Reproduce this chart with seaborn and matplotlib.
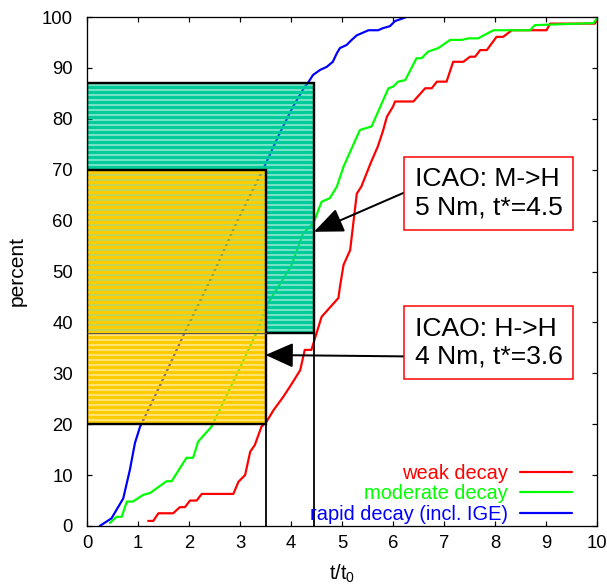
import matplotlib
matplotlib.use("Agg")
import matplotlib.pyplot as plt
from matplotlib.patches import Rectangle
from matplotlib.lines import Line2D
import numpy as np
import pandas as pd
import seaborn as sns

# ---------------- data ----------------
weak_t = [1.2, 1.3, 1.4, 1.69, 1.82, 1.92, 2.02, 2.15, 2.25, 2.87, 2.97, 3.1, 3.2, 3.29, 3.42, 3.52,
          3.66, 3.85, 3.98, 4.18, 4.27, 4.4, 4.6, 4.93, 4.96, 5.03, 5.16, 5.29, 5.38, 5.57, 5.7, 5.8,
          5.88, 6.0, 6.04, 6.4, 6.63, 6.76, 6.86, 7.05, 7.18, 7.38, 7.51, 7.61, 7.71, 7.84, 8.03,
          8.16, 8.33, 9.01, 9.08, 9.96, 10.0]
weak_p = [1.0, 1.0, 2.5, 2.5, 3.7, 3.7, 5.0, 5.0, 6.3, 6.3, 8.7, 10.0, 14.6, 15.9, 19.5, 20.5,
          22.8, 25.4, 27.4, 30.6, 34.6, 34.6, 41.1, 44.8, 47.0, 51.3, 54.2, 65.3, 66.7, 71.5, 74.5, 77.5,
          80.4, 82.4, 83.4, 83.4, 86.0, 86.0, 87.3, 87.3, 91.2, 91.2, 92.2, 92.2, 93.5, 93.5, 96.1,
          96.1, 97.4, 97.4, 98.7, 98.7, 99.5]

moderate_t = [0.45, 0.58, 0.68, 0.78, 0.9, 1.1, 1.24, 1.56, 1.66, 1.95, 2.08, 2.18, 2.44, 2.9, 3.35,
              3.5, 3.75, 4.0, 4.24, 4.44, 4.6, 4.76, 4.9, 5.03, 5.35, 5.58, 5.91, 6.0, 6.1, 6.24,
              6.46, 6.56, 6.69, 6.89, 7.12, 7.35, 7.48, 7.67, 7.8, 7.97, 8.69, 8.78, 9.93, 10.0]
moderate_p = [0.6, 1.8, 1.8, 4.8, 4.8, 6.1, 6.5, 8.8, 8.8, 13.4, 13.4, 16.6, 19.5, 29.0, 38.5,
              43.0, 47.0, 51.0, 57.5, 59.5, 63.7, 64.4, 66.7, 70.6, 77.8, 78.5, 86.0, 86.3, 87.3, 87.6,
              91.9, 91.9, 93.2, 93.9, 95.5, 95.5, 95.8, 95.8, 96.5, 97.4, 97.4, 98.4, 98.8, 99.7]

rapid_t = [0.25, 0.48, 0.71, 0.84, 0.94, 1.04, 1.45, 1.94, 2.45, 2.95, 3.45, 3.78, 4.04, 4.25, 4.33,
           4.43, 4.57, 4.7, 4.82, 4.9, 4.96, 5.09, 5.19, 5.29, 5.52, 5.71, 5.8, 5.94, 6.04, 6.24]
rapid_p = [0.0, 1.5, 5.4, 11.0, 16.3, 19.5, 28.0, 38.5, 49.0, 60.0, 70.0, 77.2, 82.4, 86.0, 87.0,
           88.6, 89.6, 90.2, 91.2, 92.9, 93.9, 94.5, 95.5, 96.4, 97.4, 97.4, 97.8, 98.2, 99.2, 99.9]

series_names = ["weak decay", "moderate decay", "rapid decay (incl. IGE)"]
series_colors = ["#ff0000", "#00ff00", "#0000ff"]

# ICAO separation boxes: t* and percentile range
hh_t, hh_low, hh_high = 3.5, 20, 70        # H->H, 4 Nm
mh_t, mh_low, mh_high = 4.45, 38, 87       # M->H, 5 Nm
hh_label = "ICAO: H->H\n4 Nm, t*=3.6"
mh_label = "ICAO: M->H\n5 Nm, t*=4.5"

x_ticks = list(range(0, 11))
y_ticks = list(range(0, 101, 10))

# ---------------- plot ----------------
DPI = 120
def pt(px):
    return px * 72.0 / DPI

sns.set_theme(style="ticks")
plt.rcParams["font.family"] = ["Liberation Sans", "DejaVu Sans"]
plt.rcParams["mathtext.default"] = "regular"
plt.rcParams["hatch.linewidth"] = pt(4.1)
plt.rcParams["text.color"] = "black"
plt.rcParams["axes.labelcolor"] = "black"

fig = plt.figure(figsize=(607 / DPI, 587 / DPI), dpi=DPI)
ax = fig.add_axes([87 / 607, 61 / 587, 510 / 607, 509 / 587])

df = pd.concat([
    pd.DataFrame({"t": weak_t, "p": weak_p, "series": series_names[0]}),
    pd.DataFrame({"t": moderate_t, "p": moderate_p, "series": series_names[1]}),
    pd.DataFrame({"t": rapid_t, "p": rapid_p, "series": series_names[2]}),
], ignore_index=True)

sns.lineplot(data=df, x="t", y="p", hue="series", hue_order=series_names,
             palette=series_colors, sort=False, estimator=None, lw=pt(2.2),
             legend=False, ax=ax, zorder=1)

# teal box (M->H)
ax.add_patch(Rectangle((0, mh_low), mh_t, mh_high - mh_low, facecolor="none",
                       edgecolor="#00cc99", hatch="----", lw=0, zorder=2))
ax.add_patch(Rectangle((0, mh_low), mh_t, mh_high - mh_low, fill=False,
                       edgecolor="black", lw=pt(2.4), zorder=3))
# yellow box (H->H)
ax.add_patch(Rectangle((0, hh_low), hh_t, hh_high - hh_low, facecolor="none",
                       edgecolor="#ffcc00", hatch="----", lw=0, zorder=4))
ax.add_patch(Rectangle((0, hh_low), hh_t, hh_high - hh_low, fill=False,
                       edgecolor="black", lw=pt(2.4), zorder=5))
ax.hlines(mh_low, 0, hh_t, color="#555555", lw=pt(1.0), zorder=5)
ax.vlines([hh_t, mh_t], 0, [hh_low, mh_low], color="black", lw=pt(1.8), zorder=5)

box_style = dict(boxstyle="square,pad=0.4", fc="white", ec="red", lw=pt(1.5))
ax.annotate(mh_label, xy=(mh_t, 57.8), xytext=(6.43, 65.4), ha="left", va="center",
            fontsize=pt(26.5), color="black", bbox=box_style, zorder=6,
            arrowprops=dict(arrowstyle="-|>,head_length=0.95,head_width=0.4",
                            color="black", lw=pt(2.0), shrinkA=0, shrinkB=0,
                            relpos=(0, 0.6)))
ax.annotate(hh_label, xy=(hh_t, 33.6), xytext=(6.43, 36.05), ha="left", va="center",
            fontsize=pt(26.5), color="black", bbox=box_style, zorder=6,
            arrowprops=dict(arrowstyle="-|>,head_length=0.9,head_width=0.4",
                            color="black", lw=pt(2.0), shrinkA=0, shrinkB=0,
                            relpos=(0, 0.23)))

ax.set_xlim(0, 10)
ax.set_ylim(0, 100)
ax.set_xticks(x_ticks)
ax.set_yticks(y_ticks)
ax.tick_params(direction="in", top=True, right=True, length=pt(5), width=pt(1.2),
               labelsize=pt(18.5), colors="black")
ax.tick_params(axis="y", pad=pt(14))
ax.tick_params(axis="x", pad=pt(9))
for s in ax.spines.values():
    s.set_linewidth(pt(1.3))
    s.set_color("black")

ax.set_xlabel("t/t$_0$", fontsize=pt(20))
ax.set_ylabel("percent", fontsize=pt(21))
ax.xaxis.set_label_coords(0.5, -0.072)
ax.yaxis.set_label_coords(-0.118, 0.5)

handles = [Line2D([], [], color=c, lw=pt(2.2)) for c in series_colors]
ax.legend(handles, series_names, loc="lower right", bbox_to_anchor=(0.951, 0.004),
          frameon=False, markerfirst=False,
          labelcolor="linecolor", fontsize=pt(20), handlelength=2.6, handletextpad=0.6,
          labelspacing=0.08, borderaxespad=0.0, borderpad=0.0)

fig.savefig("out.png", dpi=DPI, facecolor="white")
